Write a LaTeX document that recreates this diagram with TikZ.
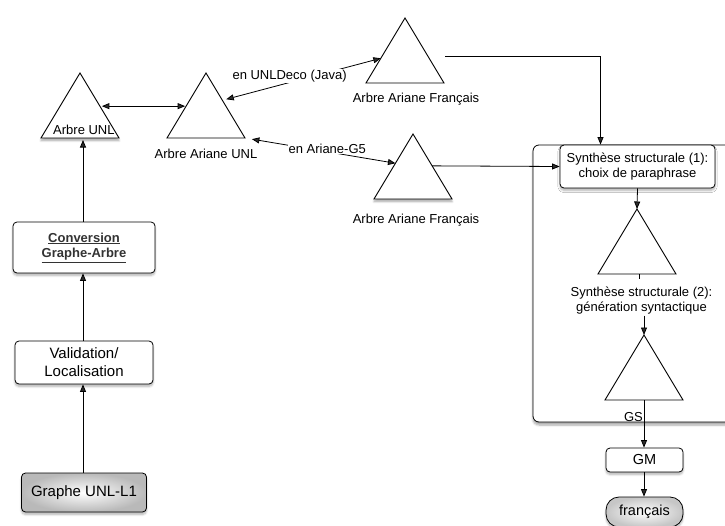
\documentclass[tikz,border=0pt]{standalone}
\usepackage{fontspec}
\setmainfont{Liberation Sans}
\usetikzlibrary{calc,positioning,shadows.blur,arrows.meta}

\begin{document}
\begin{tikzpicture}[x=1pt,y=-1pt,
  every node/.style={font=\fontsize{13}{15.5}\selectfont},
  grand/.style={font=\fontsize{15}{18}\selectfont},
  moyen/.style={font=\fontsize{14.5}{17}\selectfont},
  boite/.style={draw, rounded corners=4pt, fill=white, align=center, line width=0.8pt,
    blur shadow={shadow blur steps=6, shadow xshift=0pt, shadow yshift=-2.5pt, shadow opacity=30}},
  arbre/.style={draw, fill=white, line width=0.9pt, line join=miter},
  ombre/.style={blur shadow={shadow blur steps=6, shadow xshift=0pt, shadow yshift=-2.5pt, shadow opacity=35}},
  net/.style={},
  fleche/.style={-{Triangle[length=7.5pt,width=6pt]}, line width=0.8pt},
  double/.style={{Triangle[length=7.5pt,width=6pt]}-{Triangle[length=7.5pt,width=6pt]}, line width=0.8pt}]
\useasboundingbox (0,0) rectangle (725,525);

% cadre de la synthese
\draw[line width=0.8pt, rounded corners=6pt, fill=white,
  blur shadow={shadow blur steps=6, shadow xshift=0pt, shadow yshift=-3pt, shadow opacity=35}]
  (533,145) rectangle (745,422);

% les arbres
\foreach \n/\x/\y/\s in {aunl/80/73/ombre, aari/206/73/net, afrA/405/18/net,
                         afrB/413/134/ombre, synA/637/209/net, synB/644/335/net}
{
  \coordinate (\n) at (\x,\y);
  \coordinate (\n-l) at (\x-39,\y+65);
  \coordinate (\n-r) at (\x+39,\y+65);
  \coordinate (\n-b) at (\x,\y+65);
  \draw[arbre,\s] (\n) -- (\n-l) -- (\n-r) -- cycle;
}

\node[anchor=west, inner sep=0pt] (laun) at (53,130) {Arbre UNL};
\node[below=8pt of aari-b] (lari) {Arbre Ariane UNL};
\node[below=7pt of afrA-b, xshift=11pt] (lfrA) {Arbre Ariane Français};
\node[below=12pt of afrB-b, xshift=3pt] (lfrB) {Arbre Ariane Français};

% colonne de gauche
\node[boite, minimum width=142pt, minimum height=51pt, text=black!80]
  (conv) at (84,247.5) {\textbf{\underline{Conversion}}\\\textbf{\underline{Graphe-Arbre}}};
\node[boite, grand, minimum width=138pt, minimum height=43pt] (valid) at (84,362.5) {Validation/\\Localisation};
\node[boite, grand, minimum width=125pt, minimum height=39pt, shade, inner color=white, outer color=gray!55]
  (graphe) at (84,492.5) {Graphe UNL-L1};

\draw[fleche] (graphe.north -| 83,0) -- (valid.south -| 83,0);
\draw[fleche] (valid.north -| 83,0) -- (conv.south -| 83,0);
\draw[fleche] (conv.north -| 83,0) -- ($(aunl-b)+(3,2)$);

% liens entre arbres
\draw[double, shorten <=2pt, shorten >=1pt] ($(aunl)!0.51!(aunl-r)$) -- ($(aari)!0.51!(aari-l)$);
\draw[double, shorten <=4pt] ($(aari)!0.42!(aari-r)$) -- ($(afrA)!0.62!(afrA-l)$)
  node[midway, fill=white, inner sep=1pt, xshift=-12pt, yshift=3pt] (deco) {en UNLDeco (Java)};
\draw[double, shorten <=7pt] (aari-r) -- ($(afrB)!0.45!(afrB-l)$)
  node[midway, fill=white, inner sep=1pt, xshift=7pt, yshift=2pt] (gcinq) {en Ariane-G5};

% synthese
\node[boite, minimum width=155pt, minimum height=43pt] (synt) at (637.5,166.5)
  {Synthèse structurale (1):\\choix de paraphrase};
\draw[fleche] ($(afrA)+(40,38)$) -| ([xshift=-37pt]synt.north);
\draw[fleche] ($(afrB)!0.49!(afrB-r)$) -- (synt.west);
\draw[fleche] (synt.south) -- (synA);

\node[align=center, inner sep=1pt] (gene) at (641.5,300.5) {Synthèse structurale (2):\\génération syntactique};
\draw[line width=0.8pt] ($(synA-b)+(2,0)$) -- ($(synA-b)+(2,5)$);
\draw[fleche] (gene.south -| synB) -- (synB);

\node[boite, moyen, minimum width=77pt, minimum height=24pt] (gm) at (644.5,460) {GM};
\node[left=0pt, inner sep=1pt] (gs) at ($(synB-b)+(0,17)$) {GS};
\draw[fleche] (synB-b) -- (gm.north -| synB);
\node[boite, moyen, rounded corners=13pt, minimum width=77pt, minimum height=30pt,
  shade, inner color=white, outer color=gray!45] (fr) at (644.5,512) {français};
\draw[fleche] (gm.south -| synB) -- (fr.north -| synB);
\end{tikzpicture}
\end{document}
